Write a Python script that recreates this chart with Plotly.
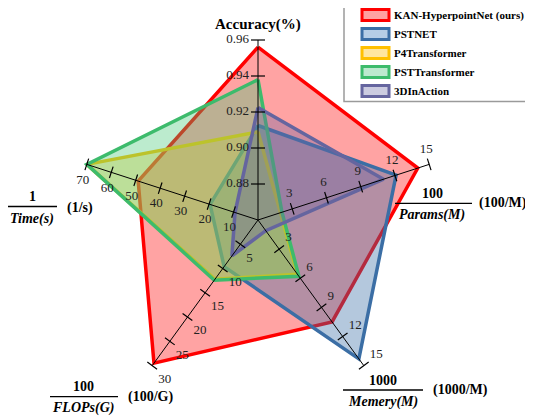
import numpy as np
import plotly.graph_objects as go

# ---------------- data ----------------
axis_keys = ["Accuracy", "Params", "Memory", "FLOPs", "Time"]
axis_min = [0.86, 0, 0, 0, 0]
axis_max = [0.96, 15, 15, 30, 70]

acc_ticks = [0.88, 0.90, 0.92, 0.94, 0.96]
params_ticks = [3, 6, 9, 12, 15]
memory_ticks = [3, 6, 9, 12, 15]
flops_ticks = [5, 10, 15, 20, 25, 30]
time_ticks = [10, 20, 30, 40, 50, 60, 70]

series_names = ["KAN-HyperpointNet (ours)", "PSTNET", "P4Transformer",
                "PSTTransformer", "3DInAction"]
# order: Accuracy, 100/Params, 1000/Memory, 100/FLOPs, 1/Time
kan_values = [0.956, 14.0, 10.5, 29.5, 49.0]
pstnet_values = [0.9125, 12.1, 14.3, 9.6, 19.6]
p4t_values = [0.909, 2.0, 5.6, 12.2, 70.0]
pstt_values = [0.938, 2.1, 5.8, 12.4, 70.0]
inaction_values = [0.9225, 11.0, 1.1, 7.4, 9.4]
series_values = [kan_values, pstnet_values, p4t_values, pstt_values, inaction_values]

# ---------------- style ----------------
line_colors = ["#ff0000", "#3b6ea5", "#ffc000", "#3dbb6c", "#65659f"]
fill_colors = ["rgba(255,0,0,0.36)", "rgba(59,110,165,0.38)", "rgba(255,205,40,0.38)",
               "rgba(70,200,120,0.36)", "rgba(110,100,160,0.36)"]
legend_fills = ["#ffa0a0", "#b5cde6", "#ffe6a0", "#bde9cf", "#cbcbe0"]

FONT = "'Liberation Serif', 'DejaVu Serif', serif"
W, H = 533, 419
OFF = 8  # default page body margin
CX, CY, R = 258, 220, 180
axis_angle_deg = [90, 18, -54, -126, 162]


def to_xy(i, v):
    frac = (v - axis_min[i]) / (axis_max[i] - axis_min[i])
    a = np.deg2rad(axis_angle_deg[i])
    return CX + R * frac * np.cos(a), CY - R * frac * np.sin(a)


fig = go.Figure()

# polygons
for name, vals, lc, fc in zip(series_names, series_values, line_colors, fill_colors):
    pts = [to_xy(i, v) for i, v in enumerate(vals)]
    pts.append(pts[0])
    fig.add_trace(go.Scatter(
        x=[p[0] for p in pts], y=[p[1] for p in pts], mode="lines",
        fill="toself", fillcolor=fc, line=dict(color=lc, width=3.5),
        name=name, showlegend=False, hoverinfo="skip"))

# spokes
sx, sy = [], []
for i in range(5):
    x0, y0 = to_xy(i, axis_min[i])
    x1, y1 = to_xy(i, axis_max[i])
    sx += [x0, x1, None]
    sy += [y0, y1, None]
fig.add_trace(go.Scatter(x=sx, y=sy, mode="lines", line=dict(color="black", width=1),
                         showlegend=False, hoverinfo="skip"))

# tick marks
tick_values = [acc_ticks, params_ticks, memory_ticks, flops_ticks, time_ticks]
tx, ty = [], []
for i, ticks in enumerate(tick_values):
    a = np.deg2rad(axis_angle_deg[i])
    half = 7 if i == 0 else 6
    px, py = np.sin(a), np.cos(a)
    for t in ticks:
        x, y = to_xy(i, t)
        tx += [x - half * px, x + half * px, None]
        ty += [y - half * py, y + half * py, None]
fig.add_trace(go.Scatter(x=tx, y=ty, mode="lines", line=dict(color="black", width=1.2),
                         showlegend=False, hoverinfo="skip"))

# tick labels
label_cfg = [
    (acc_ticks, lambda t: f"{t:.2f}", (-9, 0), "middle left"),
    (params_ticks, lambda t: f"{t:g}", (-3, -15), "middle center"),
    (memory_ticks, lambda t: f"{t:g}", (6, -11), "middle right"),
    (flops_ticks, lambda t: f"{t:g}", (6, 14), "middle right"),
    (time_ticks, lambda t: f"{t:g}", (-4, 16), "middle center"),
]
for i, (ticks, fmt, (dx, dy), pos) in enumerate(label_cfg):
    xs, ys, txt = [], [], []
    for t in ticks:
        x, y = to_xy(i, t)
        xs.append(x + dx)
        ys.append(y + dy)
        txt.append(fmt(t))
    fig.add_trace(go.Scatter(x=xs, y=ys, mode="text", text=txt, textposition=pos,
                             textfont=dict(family=FONT, size=13, color="#222"),
                             showlegend=False, hoverinfo="skip"))

annotations = []
shapes = []


def ann(x, y, text, size=14, xanchor="center"):
    annotations.append(dict(x=x, y=y, xref="x", yref="y", text=text, showarrow=False,
                            xanchor=xanchor, yanchor="middle",
                            font=dict(family=FONT, size=size, color="black")))


ann(258, 24, "<b>Accuracy(%)</b>", 15)

# fraction axis titles: (num, den, unit, num_xy, line_x0, line_x1, line_y, den_xy, unit_xy)
fractions = [
    ("1", "Time(s)", "(1/s)", (32, 196), 7, 57, 206.5, (32, 218.5), (80, 208)),
    ("100", "Params(M)", "(100/M)", (432, 193.5), 395, 472, 203.3, (432, 214.5), (503, 203)),
    ("100", "FLOPs(G)", "(100/G)", (83, 386.5), 50, 118, 396.7, (83, 407.5), (150, 396.5)),
    ("1000", "Memery(M)", "(1000/M)", (383, 380), 343, 423, 390, (383, 401.5), (460, 390)),
]
for num, den, unit, nxy, lx0, lx1, ly, dxy, uxy in fractions:
    ann(nxy[0], nxy[1], f"<b>{num}</b>", 14)
    ann(dxy[0], dxy[1], f"<b><i>{den}</i></b>", 14)
    ann(uxy[0], uxy[1], f"<b>{unit}</b>", 14)
    shapes.append(dict(type="line", xref="x", yref="y", x0=lx0, x1=lx1, y0=ly, y1=ly,
                       line=dict(color="black", width=1.3)))

# legend box
shapes.append(dict(type="rect", xref="x", yref="y", x0=344, x1=531.5, y0=1, y1=101.5,
                   line=dict(color="#9a9a9a", width=1.5), fillcolor="white", layer="above"))
row_y = [15, 34, 53, 72, 91]
for name, lc, lf, yy in zip(series_names, line_colors, legend_fills, row_y):
    shapes.append(dict(type="rect", xref="x", yref="y", x0=362, x1=389, y0=yy - 5.5, y1=yy + 5.5,
                       line=dict(color=lc, width=3), fillcolor=lf, layer="above"))
    ann(392, yy, f"<b>{name}</b>", 11, xanchor="left")

fig.update_layout(
    width=W - OFF, height=H - OFF, autosize=False,
    margin=dict(l=0, r=0, t=0, b=0),
    paper_bgcolor="white", plot_bgcolor="white",
    font=dict(family=FONT),
    xaxis=dict(range=[OFF, W], visible=False, fixedrange=True),
    yaxis=dict(range=[H, OFF], visible=False, fixedrange=True),
    shapes=shapes, annotations=annotations, showlegend=False,
)

fig.write_html("out.html")
